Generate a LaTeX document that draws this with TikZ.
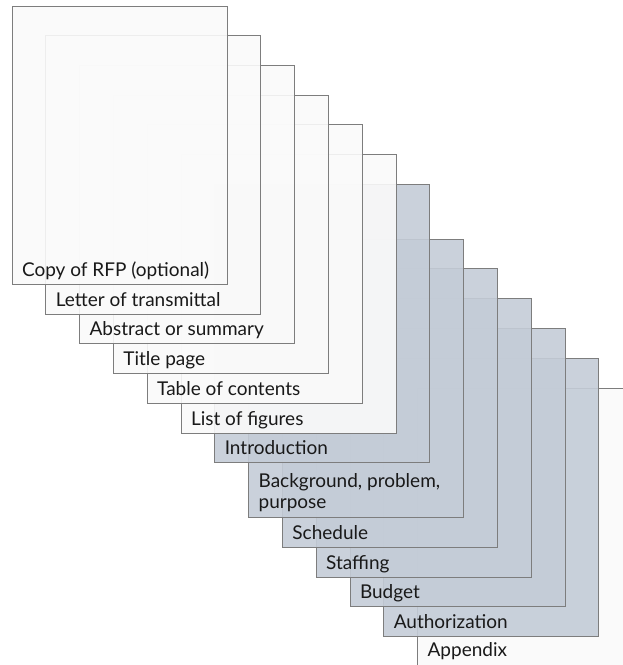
\documentclass[tikz,border=0pt]{standalone}
\usepackage{fontspec}
\setmainfont{Lato}
\definecolor{pageblue}{RGB}{196,204,215}
\definecolor{pagewhite}{RGB}{250,250,250}
\definecolor{edge}{RGB}{125,125,125}
\tikzset{
  page/.style={draw=edge, line width=1pt, fill opacity=0.9, rectangle, inner sep=0pt, outer sep=0pt,
    minimum width=215pt, minimum height=278.5pt, anchor=north west},
  whitepage/.style={page, fill=pagewhite},
  bluepage/.style={page, fill=pageblue},
  lbl/.style={anchor=base west, inner sep=0pt, outer sep=0pt, text=black!90,
    font=\fontsize{19}{21}\selectfont, align=left}
}
\begin{document}
\begin{tikzpicture}[x=1pt,y=1pt]
\useasboundingbox (0,0) rectangle (623,-665);
\clip (0,0) rectangle (623,-665);
% pages, back to front
\node[whitepage] (p13) at (417.6,-388) {};
\node[lbl] (t13) at ([shift={(10,10)}]p13.south west) {Appendix};
\node[bluepage] (p12) at (383.8,-358.2) {};
\node[lbl] (t12) at ([shift={(10,8)}]p12.south west) {Authorization};
\node[bluepage] (p11) at (350,-328.4) {};
\node[lbl] (t11) at ([shift={(10,8)}]p11.south west) {Budget};
\node[bluepage] (p10) at (316.2,-298.6) {};
\node[lbl] (t10) at ([shift={(10,8)}]p10.south west) {Staffing};
\node[bluepage] (p9) at (282.4,-268.8) {};
\node[lbl] (t9) at ([shift={(10,8)}]p9.south west) {Schedule};
\node[bluepage] (p8) at (248.6,-239) {};
\node[lbl] (t8) at ([shift={(10,9)}]p8.south west) {Background, problem,\\purpose};
\node[bluepage] (p7) at (214.8,-184.2) {};
\node[lbl] (t7) at ([shift={(10,8)}]p7.south west) {Introduction};
\node[whitepage] (p6) at (181,-154.5) {};
\node[lbl] (t6) at ([shift={(10,8)}]p6.south west) {List of figures};
\node[whitepage] (p5) at (147.2,-124.8) {};
\node[lbl] (t5) at ([shift={(10,8)}]p5.south west) {Table of contents};
\node[whitepage] (p4) at (113.4,-95.1) {};
\node[lbl] (t4) at ([shift={(10,8)}]p4.south west) {Title page};
\node[whitepage] (p3) at (79.6,-65.4) {};
\node[lbl] (t3) at ([shift={(10,8)}]p3.south west) {Abstract or summary};
\node[whitepage] (p2) at (45.8,-35.7) {};
\node[lbl] (t2) at ([shift={(10,8)}]p2.south west) {Letter of transmittal};
\node[whitepage] (p1) at (12,-6) {};
\node[lbl] (t1) at ([shift={(10,8)}]p1.south west) {Copy of RFP (optional)};
\end{tikzpicture}
\end{document}
